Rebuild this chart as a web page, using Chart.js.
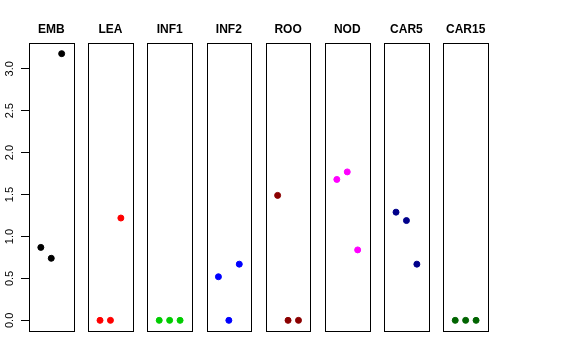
<!DOCTYPE html>
<html>
<head>
<meta charset="utf-8">
<script src="https://cdn.jsdelivr.net/npm/chart.js@4"></script>
<style>
html,body{margin:0;padding:0;background:#fff;}
#wrap{position:relative;width:576px;height:360px;}
#wrap canvas{position:absolute;left:0;top:0;}
</style>
</head>
<body>
<div id="wrap"></div>
<script>
const categories = ['EMB','LEA','INF1','INF2','ROO','NOD','CAR5','CAR15'];
const xPositions = [1, 2, 3];
const embValues   = [0.87, 0.74, 3.18];
const leaValues   = [0, 0, 1.22];
const inf1Values  = [0, 0, 0];
const inf2Values  = [0.52, 0, 0.67];
const rooValues   = [1.49, 0, 0];
const nodValues   = [1.68, 1.77, 0.84];
const car5Values  = [1.29, 1.19, 0.67];
const car15Values = [0, 0, 0];
const seriesValues = [embValues, leaValues, inf1Values, inf2Values, rooValues, nodValues, car5Values, car15Values];
const seriesColors = ['#000000','#ff0000','#00cd00','#0000ff','#8b0000','#ff00ff','#00008b','#006400'];
const yTicks = [0, 0.5, 1.0, 1.5, 2.0, 2.5, 3.0];

const W = 576, H = 360;
const firstLeft = 29, step = 59.2, panelW = 44.5;
const panelTop = 43, panelBottom = 331;
const yMin = -0.127, yMax = 3.307;
const xMin = -0.135, xMax = 4.135;
const fontFamily = '"Liberation Sans", Arial, Helvetica, sans-serif';

const boxPlugin = {
  id: 'panelBox',
  afterDatasetsDraw(chart) {
    const a = chart.chartArea;
    const ctx = chart.ctx;
    ctx.save();
    ctx.strokeStyle = '#000';
    ctx.lineWidth = 1;
    const l = Math.round(a.left) + 0.5, t = Math.round(a.top) + 0.5;
    const r = Math.round(a.right) + 0.5, b = Math.round(a.bottom) + 0.5;
    ctx.strokeRect(l, t, r - l, b - t);
    ctx.restore();
  }
};

const wrap = document.getElementById('wrap');
categories.forEach((cat, i) => {
  const cv = document.createElement('canvas');
  cv.width = W; cv.height = H;
  cv.style.width = W + 'px'; cv.style.height = H + 'px';
  wrap.appendChild(cv);
  const left = firstLeft + step * i;
  const showY = i === 0;
  const pts = xPositions.map((x, k) => ({x: x, y: seriesValues[i][k]}));
  new Chart(cv.getContext('2d'), {
    type: 'scatter',
    data: {
      datasets: [{
        label: cat,
        data: pts,
        backgroundColor: seriesColors[i],
        borderColor: seriesColors[i],
        borderWidth: 1,
        pointRadius: 3,
        pointHoverRadius: 3
      }]
    },
    options: {
      responsive: false,
      animation: false,
      events: [],
      layout: {
        padding: {
          left: showY ? 0 : left,
          right: W - left - panelW,
          top: 22,
          bottom: H - panelBottom
        }
      },
      plugins: {
        legend: {display: false},
        tooltip: {enabled: false},
        title: {
          display: true,
          text: cat,
          fullSize: false,
          color: '#000',
          font: {family: fontFamily, size: 12, weight: 'bold', lineHeight: 1.2},
          padding: {top: 0, bottom: panelTop - 22 - 14.4}
        }
      },
      scales: {
        x: {
          type: 'linear',
          display: false,
          min: xMin,
          max: xMax
        },
        y: {
          type: 'linear',
          display: showY,
          min: yMin,
          max: yMax,
          afterBuildTicks: (s) => { s.ticks = yTicks.map(v => ({value: v})); },
          afterFit: (s) => { if (showY) s.width = firstLeft; },
          border: {display: false},
          grid: {
            display: true,
            drawOnChartArea: false,
            drawTicks: true,
            tickLength: 8,
            color: '#000',
            lineWidth: 1
          },
          ticks: {
            color: '#000',
            font: {family: fontFamily, size: 11},
            minRotation: 90,
            maxRotation: 90,
            crossAlign: 'center',
            padding: 3,
            callback: (v) => Number(v).toFixed(1)
          }
        }
      }
    },
    plugins: [boxPlugin]
  });
});
</script>
</body>
</html>
